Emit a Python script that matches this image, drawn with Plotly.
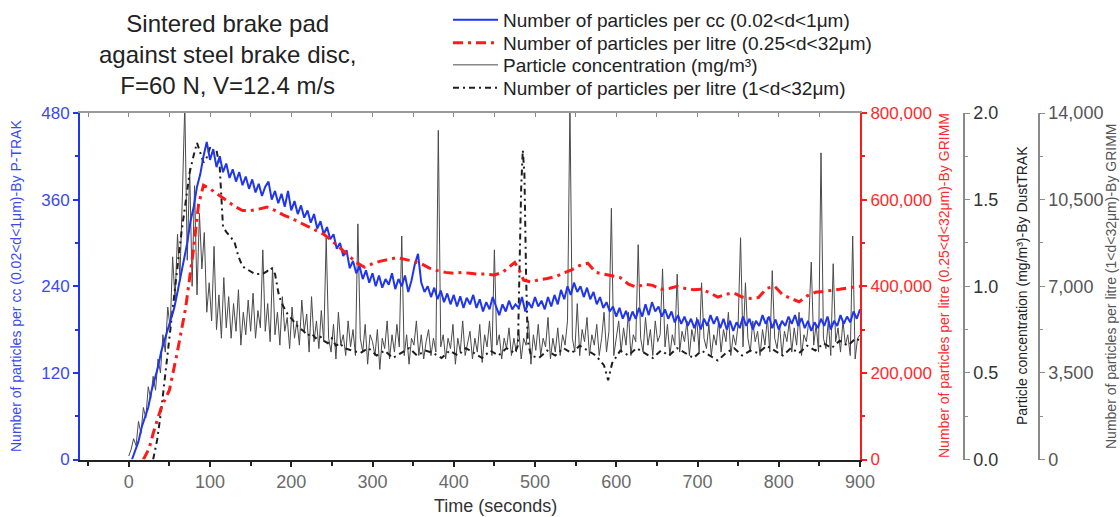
import plotly.graph_objects as go

# ---------------- data ----------------
# Blue: number of particles per cc (0.02<d<1um), P-TRAK, sampled every 4 s from t=4
t_blue = list(range(4, 901, 4))
v_blue = [
    0, 12, 25, 45, 60, 72, 95, 110, 128, 150,
    165, 180, 196, 210, 232, 255, 280, 300, 330, 350,
    378, 395, 420, 440, 415, 430, 405, 420, 398, 410,
    390, 402, 385, 398, 380, 392, 375, 388, 370, 382,
    365, 378, 385, 360, 372, 355, 368, 350, 372, 345,
    358, 340, 352, 335, 345, 328, 340, 320, 330, 312,
    322, 305, 312, 292, 300, 282, 290, 265, 275, 258,
    268, 250, 262, 245, 258, 240, 255, 238, 250, 242,
    258, 236, 250, 240, 255, 232, 248, 270, 285, 245,
    232, 240, 225, 238, 222, 234, 218, 230, 215, 228,
    212, 226, 210, 224, 215, 228, 210, 222, 205, 218,
    208, 225, 212, 200, 215, 205, 220, 208, 215, 210,
    225, 205, 218, 210, 225, 212, 220, 208, 225, 212,
    228, 215, 235, 222, 240, 228, 245, 232, 240, 225,
    238, 222, 232, 215, 225, 210, 218, 205, 212, 198,
    210, 195, 206, 192, 205, 195, 210, 198, 215, 200,
    218, 205, 212, 198, 208, 195, 205, 190, 200, 188,
    198, 185, 195, 182, 194, 180, 195, 185, 200, 188,
    198, 182, 195, 180, 192, 178, 190, 182, 198, 185,
    195, 180, 192, 185, 200, 188, 198, 182, 194, 180,
    192, 185, 198, 188, 200, 185, 196, 182, 192, 178,
    190, 182, 195, 185, 198, 180, 192, 185, 200, 188,
    198, 190, 205, 195, 208,
]

# Red: number of particles per litre (0.25<d<32um), GRIMM
t_red = [18, 25, 30, 40, 50, 60, 70, 80, 86, 92, 100, 110, 120, 130, 140, 150, 160, 170,
         180, 190, 200, 210, 220, 230, 240, 250, 260, 270, 280, 290, 300, 310, 320, 330,
         340, 350, 360, 370, 380, 390, 400, 410, 420, 430, 440, 450, 460, 470, 475, 480,
         486, 495, 505, 515, 525, 535, 545, 555, 565, 575, 585, 595, 605, 615, 625, 635,
         645, 655, 665, 675, 685, 695, 705, 715, 725, 735, 745, 755, 765, 775, 785, 795,
         805, 815, 825, 835, 845, 855, 865, 875, 885, 895, 900]
v_red = [0, 25000, 60000, 120000, 160000, 250000, 350000, 490000, 590000, 633000, 625000,
         612000, 600000, 585000, 575000, 575000, 578000, 583000, 575000, 565000, 557000,
         548000, 538000, 530000, 520000, 505000, 488000, 470000, 455000, 444000, 452000,
         458000, 462000, 466000, 462000, 458000, 452000, 442000, 436000, 432000, 430000,
         432000, 430000, 428000, 428000, 426000, 432000, 448000, 455000, 440000, 414000,
         410000, 415000, 418000, 422000, 430000, 438000, 448000, 453000, 432000, 428000,
         425000, 420000, 405000, 398000, 405000, 402000, 393000, 395000, 400000, 395000,
         392000, 393000, 385000, 375000, 382000, 384000, 375000, 372000, 374000, 395000,
         400000, 380000, 372000, 364000, 378000, 386000, 388000, 390000, 393000, 396000,
         398000, 400000]

# Gray: particle concentration (mg/m3), DustTRAK, sampled every 3 s
t_gray = list(range(0, 901, 3))
v_gray = [
    0.02, 0.06, 0.12, 0.08, 0.22, 0.15, 0.30, 0.24, 0.42, 0.35,
    0.48, 0.40, 0.58, 0.50, 0.72, 0.62, 0.88, 0.76, 1.17, 0.92,
    1.30, 1.05, 1.52, 2.05, 1.15, 1.68, 1.00, 1.58, 0.95, 1.42,
    1.10, 1.31, 0.85, 1.02, 0.80, 1.23, 0.75, 0.95, 0.70, 1.05,
    0.76, 0.94, 0.70, 0.90, 0.74, 0.98, 0.66, 0.85, 0.72, 0.92,
    0.74, 0.96, 0.70, 0.86, 0.76, 1.21, 0.74, 0.90, 0.68, 1.11,
    0.72, 0.85, 0.66, 0.94, 0.74, 0.82, 0.64, 0.88, 0.70, 0.80,
    0.66, 0.92, 0.74, 0.84, 0.62, 0.94, 0.68, 0.80, 0.64, 0.86,
    0.68, 1.28, 0.70, 0.62, 0.78, 0.58, 0.85, 0.66, 0.72, 0.60,
    0.80, 0.65, 0.75, 0.60, 1.36, 0.70, 0.62, 0.78, 0.55, 0.72,
    0.68, 0.60, 0.75, 0.52, 0.70, 0.64, 0.80, 0.58, 0.72, 0.62,
    0.78, 0.65, 1.29, 0.60, 0.72, 0.55, 0.70, 0.66, 0.80, 0.60,
    0.72, 0.58, 0.68, 0.75, 0.60, 0.70, 0.62, 1.90, 0.65, 0.72,
    0.58, 0.70, 0.64, 0.78, 0.55, 0.70, 0.62, 0.80, 0.60, 0.68,
    0.74, 0.58, 0.70, 0.62, 0.78, 0.56, 0.72, 0.65, 0.80, 0.60,
    1.21, 0.66, 0.72, 0.58, 0.70, 0.64, 0.76, 0.60, 0.70, 0.62,
    0.75, 0.58, 0.70, 0.66, 0.80, 0.55, 0.72, 0.63, 0.78, 0.60,
    0.70, 0.65, 0.82, 0.58, 0.70, 0.62, 0.76, 0.60, 0.72, 0.66,
    0.80, 2.05, 0.70, 0.62, 0.90, 0.60, 0.75, 0.68, 0.82, 0.60,
    0.72, 0.66, 0.78, 0.60, 0.70, 0.85, 0.62, 0.74, 1.45, 0.60,
    0.70, 0.80, 0.62, 0.76, 0.66, 0.85, 0.60, 0.72, 0.68, 1.24,
    0.70, 0.62, 0.82, 0.66, 0.75, 0.60, 0.80, 0.68, 0.72, 1.10,
    0.65, 0.78, 0.60, 0.72, 0.66, 1.07, 0.62, 0.74, 0.68, 0.80,
    0.60, 0.75, 0.68, 0.82, 0.62, 1.02, 0.70, 0.64, 0.78, 0.60,
    0.72, 0.66, 0.80, 0.62, 0.75, 0.68, 0.85, 0.60, 0.72, 0.66,
    0.78, 1.28, 0.65, 1.02, 0.70, 0.62, 0.80, 0.68, 0.74, 0.60,
    0.75, 0.66, 0.82, 0.62, 1.09, 0.70, 0.64, 0.78, 0.60, 0.74,
    0.68, 0.80, 0.62, 0.76, 0.66, 0.85, 0.60, 0.72, 0.68, 0.80,
    1.14, 0.66, 0.78, 0.62, 1.77, 0.70, 0.64, 0.80, 0.60, 1.13,
    0.68, 0.76, 0.62, 0.80, 0.66, 0.72, 0.60, 1.29, 0.58, 0.70,
    0.72,
]

# Black dash-dot: number of particles per litre (1<d<32um), GRIMM
t_black = [30, 35, 40, 45, 50, 55, 60, 65, 70, 75, 80, 84, 88, 92, 96, 100, 104, 108, 112,
           116, 120, 125, 130, 135, 140, 145, 150, 155, 160, 165, 170, 175, 180, 185, 190,
           195, 200, 205, 210, 215, 220, 225, 230, 235, 240, 245, 250, 255, 260, 265, 275,
           285, 295, 305, 315, 325, 335, 345, 355, 365, 375, 385, 395, 405, 415, 425, 435,
           445, 455, 465, 475, 479, 481, 483, 485, 487, 489, 491, 495, 505, 515, 525, 535,
           545, 555, 565, 575, 585, 590, 595, 605, 615, 625, 635, 645, 655, 665, 675, 685,
           695, 705, 715, 725, 735, 745, 755, 765, 775, 785, 795, 805, 815, 825, 835, 845,
           855, 865, 875, 885, 895, 900]
v_black = [0, 800, 2000, 3500, 5000, 6300, 7800, 9200, 10500, 11600, 12300, 12800, 12400,
           12000, 12200, 12600, 12400, 12500, 11800, 9400, 9200, 9000, 8800, 8200, 7800,
           7700, 7600, 7500, 7500, 7500, 7600, 7750, 7500, 6600, 6200, 5900, 5700, 5500,
           5300, 5200, 5000, 5100, 4900, 5000, 4800, 4700, 4900, 4600, 4700, 4500, 4400,
           4300, 4500, 4200, 4400, 4100, 4300, 4500, 4200, 4400, 4300, 4100, 4400, 4200,
           4500, 4300, 4100, 4400, 4200, 4500, 4300, 4600, 8000, 11000, 12500, 11500, 7500,
           4800, 4200, 4100, 4400, 4200, 4500, 4300, 4600, 4400, 4200, 3800, 3200, 3900,
           4400, 4200, 4500, 4300, 4100, 4400, 4200, 4500, 4300, 4100, 4400, 4200, 4000,
           4300, 4500, 4200, 4400, 4300, 4600, 4400, 4200, 4500, 4300, 4600, 4400, 4700,
           4500, 4800, 4600, 4900, 4800]

names = [
    "Number of particles per cc (0.02<d<1μm)",
    "Number of particles per litre (0.25<d<32μm)",
    "Particle concentration (mg/m³)",
    "Number of particles per litre (1<d<32μm)",
]
title_lines = ["Sintered brake pad", "against steel brake disc,", "F=60 N, V=12.4 m/s"]
axis_titles = [
    "Number of particles per cc (0.02<d<1μm)-By P-TRAK",
    "Number of particles per litre (0.25<d<32μm)-By GRIMM",
    "Particle concentration (mg/m³)-By DustTRAK",
    "Number of particles per litre (1<d<32μm)-By GRIMM",
]

# ---------------- styling ----------------
W, H = 1120, 517
FONT = "Arial, Liberation Sans, sans-serif"
BLUE = "#1f35f0"
RED = "#ff1a1a"
GRAY_AX = "#8a8a8a"

x_dom = [80 / W, 860 / W]
y_dom = [1 - 459.5 / H, 1 - 113 / H]

fig = go.Figure()
fig.add_trace(go.Scatter(x=t_gray, y=v_gray, yaxis="y", name=names[2], mode="lines",
                         line=dict(color="#4a4a4a", width=1), legend="legend3"))
fig.add_trace(go.Scatter(x=t_black, y=v_black, yaxis="y2", name=names[3], mode="lines",
                         line=dict(color="#1e1e1e", width=2, dash="6px,4px,2px,4px"),
                         legend="legend4"))
fig.add_trace(go.Scatter(x=t_blue, y=v_blue, yaxis="y3", name=names[0], mode="lines",
                         line=dict(color=BLUE, width=2), legend="legend"))
fig.add_trace(go.Scatter(x=t_red, y=v_red, yaxis="y4", name=names[1], mode="lines",
                         line=dict(color=RED, width=3, dash="10px,5px,3px,5px"),
                         legend="legend2"))
# empty trace to materialise the top frame axis
fig.add_trace(go.Scatter(x=[None], y=[None], xaxis="x2", yaxis="y", showlegend=False,
                         hoverinfo="skip"))


def leg(row_y):
    return dict(x=448 / W, y=1 - row_y / H, xanchor="left", yanchor="middle",
                bgcolor="rgba(0,0,0,0)", font=dict(size=19, color="#222", family=FONT),
                itemwidth=45, tracegroupgap=0)


fig.update_layout(
    width=W, height=H, autosize=False,
    margin=dict(l=0, r=0, t=0, b=0, pad=0),
    paper_bgcolor="white", plot_bgcolor="white",
    font=dict(family=FONT, color="#222"),
    showlegend=True,
    legend=leg(20), legend2=leg(43), legend3=leg(65), legend4=leg(88),
    xaxis=dict(domain=x_dom, anchor="y", range=[-60, 900], tick0=0, dtick=100,
               automargin=False,
               ticks="outside", ticklen=5, tickwidth=1.5, tickcolor="#222",
               showline=True, linecolor="#222", linewidth=2, showgrid=False, zeroline=False,
               tickfont=dict(size=18, color="#6a6a6a"),
               minor=dict(dtick=50, tick0=0, ticks="outside", ticklen=4, tickcolor="#222",
                          showgrid=False)),
    xaxis2=dict(overlaying="x", anchor="y", side="top", range=[-60, 900], tick0=0, dtick=50,
                automargin=False,
                ticks="inside", ticklen=4, tickcolor="#888", showline=True, linecolor="#9a9a9a",
                linewidth=1.5, showgrid=False, zeroline=False, showticklabels=False),
    yaxis=dict(domain=y_dom, anchor="free", position=964 / W, side="right", range=[0, 2],
               automargin=False,
               tick0=0, dtick=0.5, tickformat=".1f", ticks="outside", ticklen=5,
               tickcolor=GRAY_AX, showline=True, linecolor=GRAY_AX, linewidth=1.5,
               showgrid=False, zeroline=False, tickfont=dict(size=18, color="#333"),
               minor=dict(dtick=0.25, ticks="outside", ticklen=3, tickcolor=GRAY_AX,
                          showgrid=False)),
    yaxis2=dict(overlaying="y", anchor="free", position=1039 / W, side="right",
                automargin=False,
                range=[0, 14000], tick0=0, dtick=3500, tickformat=",d", ticks="outside",
                ticklen=5, tickcolor=GRAY_AX, showline=True, linecolor=GRAY_AX, linewidth=1.5,
                showgrid=False, zeroline=False, tickfont=dict(size=18, color="#555"),
                minor=dict(dtick=1750, ticks="outside", ticklen=3, tickcolor=GRAY_AX,
                           showgrid=False)),
    yaxis3=dict(overlaying="y", anchor="x", side="left", range=[0, 480], tick0=0, dtick=120,
                automargin=False,
                ticks="outside", ticklen=5, tickwidth=1.5, tickcolor=BLUE, showline=True,
                linecolor=BLUE, linewidth=2, showgrid=False, zeroline=False,
                tickfont=dict(size=17, color="#3a4af0"),
                minor=dict(dtick=60, ticks="outside", ticklen=3, tickcolor=BLUE, showgrid=False)),
    yaxis4=dict(overlaying="y", anchor="x", side="right", range=[0, 800000], tick0=0,
                automargin=False,
                dtick=200000, tickformat=",d", ticks="outside", ticklen=5, tickwidth=1.5,
                tickcolor=RED, showline=True, linecolor=RED, linewidth=2, showgrid=False,
                zeroline=False, tickfont=dict(size=17, color="#ff2a2a"),
                minor=dict(dtick=100000, ticks="outside", ticklen=3, tickcolor=RED,
                           showgrid=False)),
)

ann = []
ann.append(dict(text="<br>".join(title_lines), x=227 / W, y=1 - 54 / H, xref="paper",
                yref="paper", xanchor="center", yanchor="middle", showarrow=False,
                align="center", font=dict(size=24, color="#222", family=FONT)))
ann.append(dict(text="Time (seconds)", x=495 / W, y=1 - 506 / H, xref="paper", yref="paper",
                xanchor="center", yanchor="middle", showarrow=False,
                font=dict(size=18, color="#333", family=FONT)))
title_specs = [(16, "#3a4af0", axis_titles[0]), (944, "#ff2a2a", axis_titles[1]),
               (1022, "#222", axis_titles[2]), (1111, "#555", axis_titles[3])]
for xp, col, txt in title_specs:
    ann.append(dict(text=txt, x=xp / W, y=1 - 286 / H, xref="paper", yref="paper",
                    xanchor="center", yanchor="middle",
                    textangle=-90, showarrow=False, font=dict(size=14, color=col, family=FONT)))
fig.update_layout(annotations=ann)

fig.write_html("out.html")
